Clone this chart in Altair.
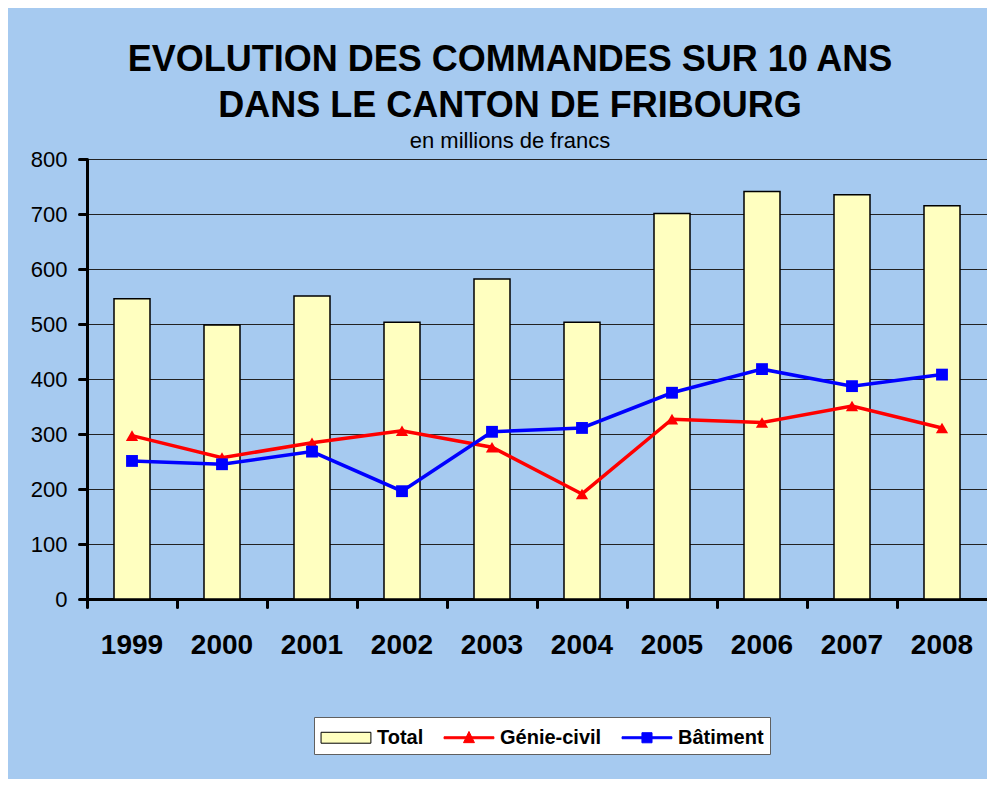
import altair as alt
import pandas as pd

years = ["1999", "2000", "2001", "2002", "2003", "2004", "2005", "2006", "2007", "2008"]
total = [546, 498, 551, 503, 582, 503, 701, 741, 735, 715]
genie_civil = [297, 257, 284, 306, 276, 191, 327, 321, 351, 311]
batiment = [251, 245, 268, 196, 304, 311, 375, 418, 387, 408]

series_names = ["Total", "Génie-civil", "Bâtiment"]
fill_colors = ["#FFFFC0", "#FF0000", "#0000FF"]
stroke_colors = ["#000000", "#FF0000", "#0000FF"]
legend_shapes = [
    "M-0.96,-0.39H2.6V0.39H-0.96Z",
    "M-0.96,-0.07H2.6V0.07H-0.96Z M0.82,-0.45L1.21,0.35L0.43,0.35Z",
    "M-0.96,-0.07H2.6V0.07H-0.96Z M0.46,-0.36H1.18V0.36H0.46Z",
]

FONT = "Liberation Sans"

df = pd.DataFrame({
    "year": years * 3,
    "series": ["Total"] * 10 + ["Génie-civil"] * 10 + ["Bâtiment"] * 10,
    "value": total + genie_civil + batiment,
})
legend_df = pd.DataFrame({"series": series_names})

x_scale = alt.Scale(paddingInner=0, paddingOuter=0)
y_scale = alt.Scale(domain=[0, 800], nice=False)

x_axis = alt.Axis(
    title=None, labelAngle=0, bandPosition=0,
    domainColor="black", domainWidth=3, tickColor="black", tickWidth=3,
    tickSize=8, tickCap="round", labelFontSize=28, labelFontWeight="bold",
    labelColor="black", labelPadding=24, grid=False, labelFont=FONT,
)
y_axis = alt.Axis(
    title=None, values=list(range(0, 900, 100)),
    domainColor="black", domainWidth=3, tickColor="black", tickWidth=3,
    tickSize=8, tickCap="round", labelFontSize=22, labelColor="black",
    labelPadding=12, grid=True, gridColor="#222222", gridWidth=1, labelFont=FONT,
)

base = alt.Chart(df)

bars = base.transform_filter(alt.datum.series == "Total").mark_bar(
    width=alt.RelativeBandSize(0.4), fill="#FFFFC0", stroke="black", strokeWidth=1.5
).encode(
    x=alt.X("year:N", scale=x_scale, axis=x_axis, sort=years),
    y=alt.Y("value:Q", scale=y_scale, axis=y_axis),
)

def series_layers(name, color, shape, size):
    sub = base.transform_filter(alt.datum.series == name)
    enc = dict(
        x=alt.X("year:N", sort=years, bandPosition=0.5),
        y=alt.Y("value:Q"),
    )
    line = sub.mark_line(color=color, strokeWidth=3.5).encode(**enc)
    pts = sub.mark_point(shape=shape, filled=True, size=size, color=color, opacity=1).encode(**enc)
    return [line, pts]

legend_params = dict(
    title=None, orient="none", legendX=227, legendY=558, direction="horizontal",
    symbolSize=784, symbolStrokeWidth=1, symbolOpacity=1,
    labelFontSize=20, labelFontWeight="bold", labelFont=FONT, labelColor="black",
    fillColor="white", strokeColor="#606060", padding=6, columnPadding=18,
    labelOffset=28, labelLimit=300,
)

legend_layer = alt.Chart(legend_df).transform_filter("false").mark_point(
    filled=True, opacity=1
).encode(
    shape=alt.Shape("series:N", scale=alt.Scale(domain=series_names, range=legend_shapes),
                    legend=alt.Legend(**legend_params)),
    fill=alt.Fill("series:N", scale=alt.Scale(domain=series_names, range=fill_colors),
                  legend=alt.Legend(**legend_params)),
    stroke=alt.Stroke("series:N", scale=alt.Scale(domain=series_names, range=stroke_colors),
                      legend=alt.Legend(**legend_params)),
)

layers = [bars] + series_layers("Génie-civil", "#FF0000", "triangle-up", 150) \
    + series_layers("Bâtiment", "#0000FF", "square", 140) + [legend_layer]

chart = alt.layer(*layers).properties(
    width=900,
    height=440,
    autosize=alt.AutoSizeParams(type="none"),
    padding={"left": 79, "top": 151, "right": 0, "bottom": 180},
    background="#A6CAF0",
    title=alt.TitleParams(
        text=["EVOLUTION DES COMMANDES SUR 10 ANS", "DANS LE CANTON DE FRIBOURG"],
        subtitle="en millions de francs",
        fontSize=36, fontWeight="bold", lineHeight=46, font=FONT, color="black",
        subtitleFontSize=22, subtitleColor="black", subtitleFont=FONT,
        anchor="middle", dx=-27, offset=-5, subtitlePadding=6,
    ),
).configure_view(
    stroke="#666666", strokeWidth=1
)

chart.save("out.html", embed_options={"renderer": "svg", "actions": False})
